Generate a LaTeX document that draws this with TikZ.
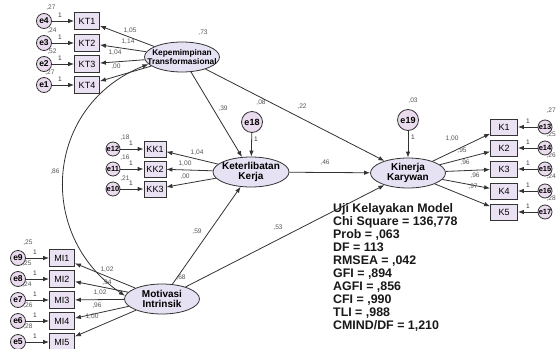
\documentclass[tikz,border=0pt]{standalone}
\usepackage{fontspec}
\setmainfont{Liberation Sans}
\usetikzlibrary{arrows.meta,shapes.geometric}
\definecolor{boxfill}{HTML}{EAE2F2}
\definecolor{latfill}{HTML}{E6E2F4}
\definecolor{errfill}{HTML}{EADCEE}
\definecolor{strk}{HTML}{333333}
\definecolor{lblc}{HTML}{555555}
\tikzset{
  obs/.style={rectangle, draw=strk, line width=0.8pt, fill=boxfill, minimum width=25pt, minimum height=17pt, inner sep=0pt, font=\fontsize{9}{10}\selectfont},
  errc/.style={circle, draw=strk, line width=0.8pt, fill=errfill, minimum size=15pt, inner sep=0pt, font=\fontsize{8.5}{9}\selectfont\bfseries},
  lat/.style={ellipse, draw=strk, line width=0.8pt, fill=latfill, minimum width=76pt, minimum height=30pt, inner sep=0pt},
  lattext/.style={align=center, inner sep=0pt, font=\fontsize{10}{10.5}\selectfont\bfseries},
  arr/.style={draw=strk, line width=0.8pt, -{Latex[length=6pt,width=4.5pt]}},
  dbl/.style={draw=strk, line width=0.8pt, {Latex[length=6pt,width=4.5pt]}-{Latex[length=6pt,width=4.5pt]}},
  lbl/.style={font=\fontsize{6.6}{7}\selectfont, text=lblc, inner sep=0pt},
  one/.style={font=\fontsize{6.6}{7}\selectfont, text=strk, inner sep=0pt},
}
\begin{document}
\begin{tikzpicture}[x=1pt,y=-1pt]
\useasboundingbox (0,0) rectangle (556,348);
\clip (0,0) rectangle (556,348);
\fill[white] (0,0) rectangle (556,348);

% latent variables
\node[lat, minimum width=75pt] (kep) at (182,57) {};
\node[lattext, font=\fontsize{8.3}{9.3}\selectfont\bfseries] (keptxt) at (kep.center) {Kepemimpinan\\Transformasional};
\node[lat] (ket) at (251,172) {};
\node[lattext] (kettxt) at (ket.center) {Keterlibatan\\Kerja};
\node[lat, minimum width=75pt] (kin) at (408,173) {};
\node[lattext] (kintxt) at (kin.center) {Kinerja\\Karywan};
\node[lat, minimum width=75pt] (mot) at (162,299) {};
\node[lattext] (mottxt) at (mot.center) {Motivasi\\Intrinsik};

% KT indicators
\foreach \i/\e/\y in {1/e4/21, 2/e3/43, 3/e2/64, 4/e1/85}{
  \node[obs] (kt\i) at (87,\y) {KT\i};
  \node[errc] (\e) at (44,\y) {\e};
  \draw[arr] (\e) -- (kt\i);
  \draw[arr] (kep) -- (kt\i);
  \node[one] at (60,\y-6) {1};
}
\node[lbl] at (51,8) {,27};
\node[lbl] at (52,31) {,24};
\node[lbl] at (52,52) {,52};
\node[lbl] at (50,73) {,27};
\node[lbl] at (130,31) {1,05};
\node[lbl] at (128,42) {1,14};
\node[lbl] at (115,53) {1,04};
\node[lbl] at (116,67) {,00};
\node[lbl] at (203,33) {,73};

% KK indicators
\foreach \i/\e/\y in {1/e12/149, 2/e11/169, 3/e10/189}{
  \node[obs, minimum width=22pt, minimum height=16pt] (kk\i) at (155,\y) {KK\i};
  \node[errc, minimum size=14pt, font=\fontsize{7.5}{8}\selectfont\bfseries] (\e) at (113,\y) {\e};
  \draw[arr] (\e) -- (kk\i);
  \draw[arr] (ket) -- (kk\i);
  \node[one] at (131,\y-6) {1};
}
\node[lbl] at (125,138) {,18};
\node[lbl] at (125,158) {,16};
\node[lbl] at (125,179) {,21};
\node[lbl] at (197,153) {1,04};
\node[lbl] at (185,164) {1,00};
\node[lbl] at (185,177) {,00};

% e18, e19
\node[errc, minimum size=21pt, font=\fontsize{9}{10}\selectfont\bfseries] (e18) at (252,122) {e18};
\draw[arr] (e18) -- (ket);
\node[one] at (256,139) {1};
\node[lbl] at (261,103) {,08};
\node[errc, minimum size=21pt, font=\fontsize{9}{10}\selectfont\bfseries] (e19) at (408,120) {e19};
\draw[arr] (e19) -- (kin);
\node[one] at (413,137) {1};
\node[lbl] at (413,101) {,03};

% K indicators
\foreach \i/\e/\y in {1/e13/127, 2/e14/148, 3/e15/169, 4/e16/191, 5/e17/212}{
  \node[obs, minimum width=27pt, minimum height=16pt] (k\i) at (504,\y) {K\i};
  \node[errc, minimum size=14pt, font=\fontsize{7.5}{8}\selectfont\bfseries] (\e) at (545,\y) {\e};
  \draw[arr] (\e) -- (k\i);
  \draw[arr] (kin) -- (k\i);
  \node[one] at (528,\y-6) {1};
}
\node[lbl, anchor=east] at (556,111) {,27};
\node[lbl, anchor=east] at (556,135) {,25};
\node[lbl, anchor=east] at (556,156) {,26};
\node[lbl, anchor=east] at (556,177) {,24};
\node[lbl, anchor=east] at (556,199) {,28};
\node[lbl] at (452,139) {1,00};
\node[lbl] at (462,151) {,95};
\node[lbl] at (465,163) {,96};
\node[lbl] at (475,176) {,96};
\node[lbl] at (473,187) {,97};

% MI indicators
\foreach \i/\e/\y in {1/e9/258, 2/e8/279, 3/e7/300, 4/e6/321, 5/e5/342}{
  \node[obs] (mi\i) at (62,\y) {MI\i};
  \node[errc] (\e) at (18,\y) {\e};
  \draw[arr] (\e) -- (mi\i);
  \draw[arr] (mot) -- (mi\i);
  \node[one] at (35,\y-6) {1};
}
\node[lbl] at (28,243) {,25};
\node[lbl] at (27,264) {,25};
\node[lbl] at (27,285) {,24};
\node[lbl] at (28,306) {,26};
\node[lbl] at (28,327) {,28};
\node[lbl] at (107,270) {1,02};
\node[lbl] at (107,283) {,94};
\node[lbl] at (100,293) {1,02};
\node[lbl] at (97,306) {,96};
\node[lbl] at (92,317) {1,00};
\node[lbl] at (181,278) {,68};

% covariance
\draw[dbl] (kep.192) .. controls (45,105) and (35,235) .. (mot.175);
\node[lbl] at (55,172) {,86};

% structural paths
\draw[arr] (kep) -- (ket);
\node[lbl] at (223,109) {,39};
\draw[arr] (kep) -- (kin);
\node[lbl] at (302,107) {,22};
\draw[arr] (ket) -- (kin);
\node[lbl] at (325,163) {,46};
\draw[arr] (mot) -- (ket);
\node[lbl] at (197,232) {,59};
\draw[arr] (mot) -- (kin);
\node[lbl] at (278,228) {,53};

% fit statistics
\node[anchor=north west, align=left, inner sep=0pt, font=\fontsize{12.4}{13}\selectfont\bfseries, text=black!90] (fit) at (333,203) {Uji Kelayakan Model\\Chi Square = 136,778\\Prob = ,063\\DF = 113\\RMSEA = ,042\\GFI = ,894\\AGFI = ,856\\CFI = ,990\\TLI = ,988\\CMIND/DF = 1,210};
\end{tikzpicture}
\end{document}
